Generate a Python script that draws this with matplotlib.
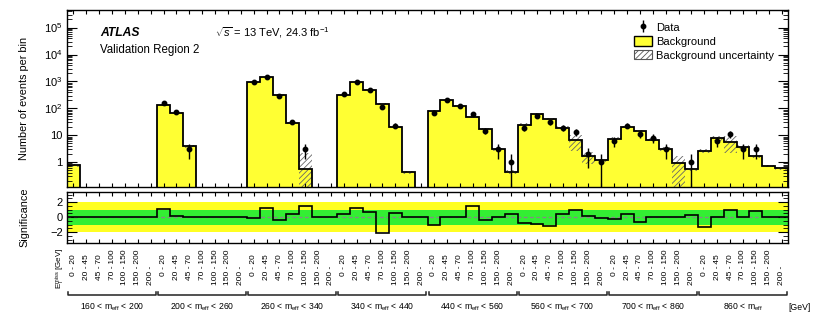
import numpy as np
import matplotlib
matplotlib.use("Agg")
import matplotlib.pyplot as plt
from matplotlib.patches import Patch
from matplotlib.lines import Line2D
from matplotlib.ticker import FixedLocator, FixedFormatter, LogLocator, MultipleLocator, NullFormatter
from matplotlib.transforms import blended_transform_factory

plt.rcParams['font.family'] = ['Liberation Sans', 'DejaVu Sans']
plt.rcParams['mathtext.fontset'] = 'custom'
plt.rcParams['mathtext.rm'] = 'Liberation Sans'
plt.rcParams['mathtext.it'] = 'Liberation Sans:italic'
plt.rcParams['mathtext.bf'] = 'Liberation Sans:bold'
plt.rcParams['hatch.linewidth'] = 0.6

# ---------------- data ----------------
meff_regions = ["160 < m$_{\\mathrm{eff}}$ < 200", "200 < m$_{\\mathrm{eff}}$ < 260",
                "260 < m$_{\\mathrm{eff}}$ < 340", "340 < m$_{\\mathrm{eff}}$ < 440",
                "440 < m$_{\\mathrm{eff}}$ < 560", "560 < m$_{\\mathrm{eff}}$ < 700",
                "700 < m$_{\\mathrm{eff}}$ < 860", "860 < m$_{\\mathrm{eff}}$"]
et_lo = ["0", "20", "45", "70", "100", "150", "200"]
et_hi = ["20", "45", "70", "100", "150", "200", ""]

background = [
    [0.77, 0, 0, 0, 0, 0, 0],
    [138, 69, 3.9, 0, 0, 0, 0],
    [940, 1440, 310, 29.5, 0.54, 0, 0],
    [322, 915, 490, 145, 20, 0.42, 0],
    [82, 198, 122, 48, 17, 3.1, 0.44],
    [25, 63, 41, 19.3, 6.5, 1.67, 1.19],
    [7.5, 20.3, 14.4, 6.9, 3.1, 0.92, 0.54],
    [2.6, 7.9, 5.7, 3.7, 1.67, 0.73, 0.61],
]
background_unc = [
    [0.12, 0, 0, 0, 0, 0, 0],
    [8, 4, 0.5, 0, 0, 0, 0],
    [50, 70, 20, 2.5, 1.66, 0, 0],
    [20, 50, 30, 10, 2, 0.06, 0],
    [6, 12, 8, 4, 1.5, 0.4, 0.06],
    [2.5, 5, 4, 2, 3.9, 0.8, 0.15],
    [0.9, 1.8, 1.5, 0.8, 0.5, 0.85, 0.08],
    [0.4, 1.7, 3.5, 0.5, 0.2, 0.08, 0.08],
]
data = [
    [0, 0, 0, 0, 0, 0, 0],
    [157, 71, 3, 0, 0, 0, 0],
    [960, 1500, 300, 32, 3, 0, 0],
    [340, 930, 490, 115, 23, 0, 0],
    [67, 200, 120, 60, 15, 3, 1],
    [19, 54, 30, 19, 13, 2, 1],
    [6, 23, 11, 8, 3, 0, 1],
    [0, 6, 11, 3, 3, 0, 0],
]
significance = [
    [0, 0, 0, 0, 0, 0, 0],
    [1.15, 0.2, 0.03, 0, 0, 0, 0],
    [-0.13, 1.24, -0.34, 0.47, 1.5, 0, 0],
    [0.47, 1.29, 0.64, -2.1, 0.6, 0.03, 0],
    [-1.1, 0, 0, 1.45, -0.35, 0.05, 0.44],
    [-0.77, -0.86, -1.16, 0.43, 0.99, 0.13, -0.04],
    [-0.2, 0.47, -0.64, 0, 0, 0, 0.26],
    [-1.37, 0, 0.99, 0, 0.77, 0, 0],
]

# ---------------- derived arrays ----------------
bkg = np.array(background, dtype=float).ravel()
bkg_err = np.array(background_unc, dtype=float).ravel()
dat = np.array(data, dtype=float).ravel()
sig = np.array(significance, dtype=float).ravel()
nb = len(bkg)
nper = len(et_lo)
edges = np.arange(nb + 1, dtype=float)
centers = edges[:-1] + 0.5
floor = 1e-3

W, H = 830, 318
fig = plt.figure(figsize=(W / 100, H / 100), dpi=100)
L, R = 67, 788
ax = fig.add_axes([L / W, 1 - 187 / H, (R - L) / W, 177 / H])
ax2 = fig.add_axes([L / W, 1 - 242.7 / H, (R - L) / W, 51 / H])

yellow = '#ffff33'
# background histogram
bplot = np.where(bkg > 0, bkg, floor)
ax.stairs(bplot, edges, fill=True, color=yellow, baseline=floor, zorder=1)
# uncertainty hatch
mask = bkg > 0
lo = np.maximum(bkg - bkg_err, floor)
hi = bkg + bkg_err
ax.bar(centers[mask], (hi - lo)[mask], bottom=lo[mask], width=1.0, fill=False,
       hatch='//////', edgecolor='#666666', linewidth=0, zorder=2)
ax.stairs(bplot, edges, fill=False, color='black', linewidth=1.3, baseline=floor, zorder=3)

# data
dmask = dat > 0
derr = np.sqrt(dat)
dlow = np.minimum(derr, dat - 1e-4)
ax.errorbar(centers[dmask], dat[dmask], yerr=[dlow[dmask], derr[dmask]], fmt='o',
            color='black', markersize=3.2, elinewidth=1.0, capsize=0, zorder=4)

ax.set_yscale('log')
ax.set_xlim(0, nb)
ax.set_ylim(0.12, 4.5e5)
ax.yaxis.set_major_locator(FixedLocator([1, 10, 1e2, 1e3, 1e4, 1e5]))
ax.yaxis.set_major_formatter(FixedFormatter(['1', '10', '$10^2$', '$10^3$', '$10^4$', '$10^5$']))
ax.yaxis.set_minor_locator(LogLocator(base=10, subs=np.arange(2, 10), numticks=20))
ax.yaxis.set_minor_formatter(NullFormatter())
ax.set_xticks(centers)
ax.set_xticklabels([])
ax.tick_params(axis='x', which='both', direction='in', top=True, bottom=True, length=3, width=0.8)
ax.tick_params(axis='y', which='major', direction='in', left=True, right=True, length=7, width=0.8, labelsize=8, pad=3)
ax.tick_params(axis='y', which='minor', direction='in', left=True, right=True, length=3.5, width=0.6)
ax.set_ylabel('Number of events per bin', fontsize=7.8)
ax.yaxis.set_label_coords((29 - L) / (R - L), 0.5)
for sp in ax.spines.values():
    sp.set_linewidth(1.0)

# texts
ax.text((100 - L) / (R - L), (187 - 33) / 177, 'ATLAS', transform=ax.transAxes,
        fontsize=8.7, fontweight='bold', fontstyle='italic', va='center', ha='left')
ax.text((100 - L) / (R - L), (187 - 50) / 177, 'Validation Region 2', transform=ax.transAxes,
        fontsize=8.3, va='center', ha='left')
ax.text((215 - L) / (R - L), (187 - 33) / 177, r'$\sqrt{s}$ = 13 TeV, 24.3 fb$^{-1}$',
        transform=ax.transAxes, fontsize=8.0, va='center', ha='left')

# legend
h_data = Line2D([], [], color='black', marker='o', markersize=3.2, linestyle='none')
h_data_bar = Line2D([], [], color='black', linewidth=1.0, marker='|', markersize=9, linestyle='none')
h_bkg = Patch(facecolor=yellow, edgecolor='black', linewidth=1.0)
h_unc = Patch(facecolor='white', edgecolor='#555555', hatch='//////', linewidth=0.8)
leg = ax.legend([(h_data_bar, h_data), h_bkg, h_unc], ['Data', 'Background', 'Background uncertainty'],
                loc='upper left', bbox_to_anchor=((634 - L) / (R - L), (187 - 22) / 177),
                frameon=False, fontsize=8.0, handlelength=1.6, handleheight=0.95,
                handletextpad=0.35, labelspacing=0.3, borderpad=0, borderaxespad=0)

# ---------------- significance panel ----------------
ax2.axhspan(-2, 2, color='#ffff22', linewidth=0, zorder=0)
ax2.axhspan(-1, 1, color='#33ee33', linewidth=0, zorder=1)
ax2.axhline(0, color='#888888', linestyle='--', linewidth=0.9, dashes=(3, 2), zorder=2)
ax2.stairs(sig, edges, color='black', linewidth=1.2, zorder=3)
ax2.set_xlim(0, nb)
ax2.set_ylim(-3.4, 3.4)
ax2.set_xticks(centers)
ax2.set_xticklabels([])
ax2.yaxis.set_major_locator(FixedLocator([-2, 0, 2]))
ax2.yaxis.set_major_formatter(FixedFormatter(['\u22122', '0', '2']))
ax2.yaxis.set_minor_locator(MultipleLocator(0.5))
ax2.tick_params(axis='x', which='both', direction='in', top=True, bottom=True, length=3, width=0.8)
ax2.tick_params(axis='y', which='major', direction='in', left=True, right=True, length=7, width=0.8, labelsize=8, pad=3)
ax2.tick_params(axis='y', which='minor', direction='in', left=True, right=True, length=3.5, width=0.6)
ax2.set_ylabel('Significance', fontsize=7.8)
ax2.yaxis.set_label_coords((29 - L) / (R - L), 0.5)
for sp in ax2.spines.values():
    sp.set_linewidth(1.0)

# ---------------- bin labels below ----------------
tr = blended_transform_factory(ax2.transData, fig.transFigure)
ydash = 1 - 266 / H
for i in range(nb):
    b = i % nper
    ax2.text(centers[i], ydash, f"{et_lo[b]} -", transform=tr, rotation=90, rotation_mode='anchor',
             ha='right', va='center', fontsize=6.0, clip_on=False)
    if et_hi[b]:
        ax2.text(centers[i], ydash, f" {et_hi[b]}", transform=tr, rotation=90, rotation_mode='anchor',
                 ha='left', va='center', fontsize=6.0, clip_on=False)

fig.text(60.5 / W, 1 - 248 / H, r'E$_{\mathrm{T}}^{\mathrm{miss}}$ [GeV]', rotation=90,
         rotation_mode='anchor', ha='right', va='center', fontsize=5.8)

ybr = 1 - 295 / H
ytk = 1 - 292 / H
for r, lab in enumerate(meff_regions):
    x0 = r * nper + 0.08
    x1 = (r + 1) * nper - 0.08
    ax2.plot([x0, x0, x1, x1], [ytk, ybr, ybr, ytk], transform=tr, color='#222222',
             linewidth=1.1, clip_on=False)
    ax2.text((x0 + x1) / 2, 1 - 307.5 / H, lab, transform=tr, ha='center', va='center',
             fontsize=6.2, clip_on=False)
fig.text(788 / W, 1 - 307.5 / H, '[GeV]', ha='left', va='center', fontsize=6.2)

fig.savefig('out.png', dpi=100)
